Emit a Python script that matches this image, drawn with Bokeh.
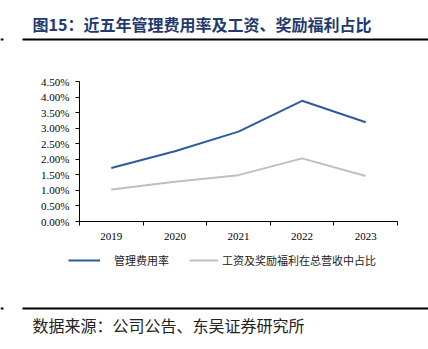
from bokeh.plotting import figure
from bokeh.models import (Range1d, FixedTicker, SingleIntervalTicker, PrintfTickFormatter,
                          Label, BoxAnnotation, Legend, LegendItem, LinearAxis)
from bokeh.embed import file_html
from bokeh.resources import INLINE

# ---- data ----
years = ["2019", "2020", "2021", "2022", "2023"]
admin_rate = [1.72, 2.26, 2.89, 3.88, 3.19]     # 管理费用率 (%)
wage_ratio = [1.03, 1.28, 1.49, 2.03, 1.46]     # 工资及奖励福利在总营收中占比 (%)
series_names = ["管理费用率", "工资及奖励福利在总营收中占比"]
title_text = "图15：近五年管理费用率及工资、奖励福利占比"
source_text = "数据来源：公司公告、东吴证券研究所"
y_max = 4.5

xs = [i + 0.5 for i in range(len(years))]
bounds = list(range(len(years) + 1))

W, H = 428, 349
PL, PR, PT, PB = 79, 397, 81, 221   # plot area edges in page px
sx = (PR - PL) / len(years)
sy = (PB - PT) / y_max

serif = "Liberation Serif"
cjk = "Noto Sans CJK SC"
blue = "#2e5a9c"
gray = "#bfbfbf"

p = figure(width=W, height=H, output_backend="svg", toolbar_location=None,
           x_range=Range1d(-PL / sx, len(years) + (W - PR) / sx),
           y_range=Range1d(-(H - PB) / sy, y_max + PT / sy),
           x_axis_location=None, y_axis_location=None, min_border=0)
p.outline_line_color = None
p.grid.visible = False

yax = LinearAxis(fixed_location=0, bounds=(0, y_max),
                 ticker=SingleIntervalTicker(interval=0.5),
                 formatter=PrintfTickFormatter(format="%.2f%%"),
                 major_tick_in=0, major_tick_out=4, minor_tick_in=0, minor_tick_out=0,
                 major_label_standoff=6, major_label_text_font=serif,
                 major_label_text_font_size="11px", major_label_text_color="black",
                 axis_line_color="black", major_tick_line_color="black")
p.add_layout(yax, "left")

xax = LinearAxis(fixed_location=0, bounds=(0, len(years)),
                 ticker=FixedTicker(ticks=xs, minor_ticks=bounds),
                 major_label_overrides={x: y for x, y in zip(xs, years)},
                 major_tick_in=0, major_tick_out=0, minor_tick_in=0, minor_tick_out=4,
                 minor_tick_line_color="black", major_label_standoff=7,
                 major_label_text_font=serif, major_label_text_font_size="11px",
                 major_label_text_color="black", axis_line_color="black")
p.add_layout(xax, "below")

r1 = p.line(xs, admin_rate, line_color=blue, line_width=2)
r2 = p.line(xs, wage_ratio, line_color=gray, line_width=2)


def add_legend(item_label, renderer, x, glyph_w, standoff):
    lg = Legend(items=[LegendItem(label=item_label, renderers=[renderer])],
                location=(x, H - 268), orientation="horizontal",
                glyph_width=glyph_w, glyph_height=12, label_height=12,
                label_standoff=standoff, padding=0, margin=0, spacing=0,
                border_line_color=None, background_fill_alpha=0,
                label_text_font=cjk, label_text_font_size="11px",
                label_text_color="#222222")
    p.add_layout(lg, "center")


add_legend(series_names[0], r1, 68, 32, 14)
add_legend(series_names[1], r2, 189, 29, 4)


def rule(y):
    for l, r in ((22, W), (0, 3)):
        p.add_layout(BoxAnnotation(left=l, right=r, top=H - y, bottom=H - y - 2,
                                   left_units="screen", right_units="screen",
                                   top_units="screen", bottom_units="screen",
                                   fill_color="black", fill_alpha=1, line_color=None))


p.add_layout(Label(x=32, y=H - 23, x_units="screen", y_units="screen",
                   text=title_text, text_font=cjk, text_font_size="16px",
                   text_font_style="bold", text_color="#1f3a6e",
                   text_baseline="middle", text_align="left"))
rule(38)
rule(307)
p.add_layout(Label(x=32, y=H - 324, x_units="screen", y_units="screen",
                   text=source_text, text_font=cjk, text_font_size="16px",
                   text_color="#222222", text_baseline="middle", text_align="left"))

open("out.html", "w").write(file_html(p, INLINE))
